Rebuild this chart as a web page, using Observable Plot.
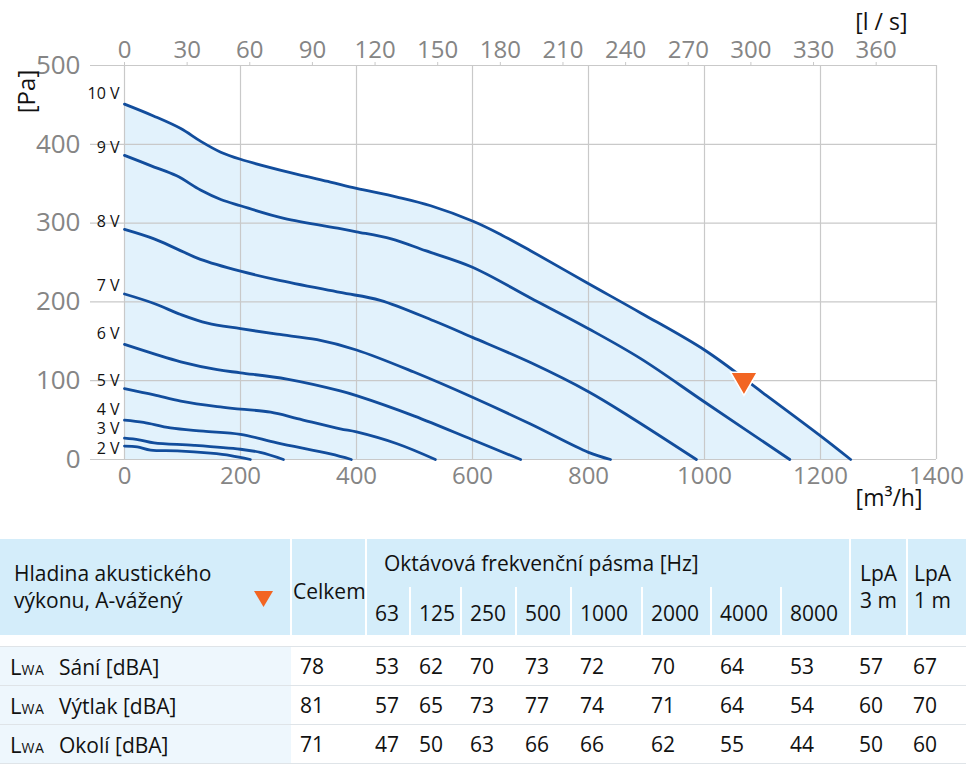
<!DOCTYPE html>
<html><head><meta charset="utf-8">
<script src="https://cdn.jsdelivr.net/npm/d3@7"></script>
<script src="https://cdn.jsdelivr.net/npm/@observablehq/plot@0.6"></script>
<style>
body{margin:0;background:#fff;font-family:"Open Sans",sans-serif;}
#chart svg{display:block;}
#tbl{margin-top:9px;}
table{border-collapse:collapse;table-layout:fixed;width:966px;font-family:"Open Sans",sans-serif;font-size:21px;color:#111;}
thead th{background:#d4edfa;font-weight:normal;text-align:left;padding:0 0 0 8px;border-left:2px solid #fff;vertical-align:middle;white-space:nowrap;}
thead th.first{border-left:none;padding-left:14px;line-height:27px;position:relative;}
thead tr.r1 th{height:48px;}
thead tr.r2 th{height:44px;}
tr.spacer td{height:11px;padding:0;border:none;}
tbody td{height:38px;padding:0 0 0 9px;border-bottom:1px solid #dfe4e8;white-space:nowrap;}
tbody tr.first td{border-top:1px solid #dfe4e8;}
tbody td.name{background:#eef7fd;padding-left:10px;}
.lwa{display:inline-block;width:49px;}
.lwa .big{font-size:22px;}
.lwa small{font-size:14px;letter-spacing:0.5px;}
.tri{position:absolute;left:254px;top:52px;}
</style></head><body>
<div id="chart"></div>
<div id="tbl"></div>
<script>
// ---- chart data ----
const flowTicks = [0,200,400,600,800,1000,1200,1400];           // m3/h
const pressureTicks = [0,100,200,300,400,500];                  // Pa
const lsTicks = [0,30,60,90,120,150,180,210,240,270,300,330,360]; // l/s
const voltLabels = ["10 V","9 V","8 V","7 V","6 V","5 V","4 V","3 V","2 V"];
const voltLabelPa = [464,396,301,220,159,100,63,39,14];
const v10 = [[0,451],[50,436],[97,420],[131,404],[166,390],[200,381],[286,364],[355,352],[400,344],[470,333],[528,322],[602,302],[650,285],[700,265],[798,224],[890,186],[1002,138],[1100,85],[1200,30],[1252,0]];
const v9 = [[0,386],[45,373],[90,360],[131,342],[166,330],[200,322],[275,306],[372,293],[400,289],[460,280],[519,265],[600,244],[700,205],[800,166],[890,128],[1002,72],[1147,0]];
const v8 = [[0,292],[51,280],[91,267],[131,254],[200,239],[263,228],[372,212],[441,202],[533,176],[600,155],[700,123],[800,86],[872,54],[986,0]];
const v7 = [[0,210],[51,198],[97,184],[143,173],[200,166],[263,159],[332,152],[400,139],[499,111],[600,79],[700,45],[800,9],[838,0]];
const v6 = [[0,146],[51,134],[97,124],[160,114],[200,110],[280,102],[372,87],[400,81],[500,55],[600,25],[683,0]];
const v5 = [[0,90],[51,82],[97,74],[160,67],[200,64],[252,60],[298,52],[372,39],[400,35],[470,20],[536,0]];
const v4 = [[0,50],[33,47],[79,40],[136,36],[200,32],[263,21],[355,7],[391,0]];
const v3 = [[0,27],[25,25],[51,21],[120,18],[200,13],[234,9],[274,0]];
const v2 = [[0,17],[22,16],[45,12],[91,11],[148,8],[183,5],[217,0]];
const operatingPoint = [1068, 101];

// ---- table data ----
const headTitle = ["Hladina akustického", "výkonu, A-vážený"];
const bands = ["63","125","250","500","1000","2000","4000","8000"];
const rowNames = ["Sání [dBA]","Výtlak [dBA]","Okolí [dBA]"];
const totalDBA = [78,81,71];
const bandDBA = [[53,62,70,73,72,70,64,53],[57,65,73,77,74,71,64,54],[47,50,63,66,66,62,55,44]];
const lpa3 = [57,60,50];
const lpa1 = [67,70,60];

const curves = [v10,v9,v8,v7,v6,v5,v4,v3,v2].map((pts,i)=>({v:voltLabels[i], pts}));
const lineData = curves.flatMap(c => c.pts.map(([q,p]) => ({v:c.v, q, p})));
const areaData = v10.map(([q,p]) => ({q,p}));
const labelData = curves.map((c,i) => ({t:c.v, q:c.pts[0][0], p:voltLabelPa[i]}));
const grid = "#c9c9c9", axisText = "#858585", ink = "#111";
const curveType = "catmull-rom";

const chart = Plot.plot({
  width: 966, height: 530,
  marginLeft: 124, marginRight: 30, marginTop: 65, marginBottom: 71,
  style: {fontFamily: "Open Sans", fontSize: "24px", background: "white", overflow: "visible"},
  x: {domain: [0,1400], label: null},
  y: {domain: [0,500], label: null},
  marks: [
    Plot.areaY(areaData, {x:"q", y:"p", fill:"#e2f2fc", curve: curveType}),
    Plot.gridX(flowTicks, {stroke: grid, strokeOpacity: 1, strokeWidth: 1.2}),
    Plot.gridY(pressureTicks, {stroke: grid, strokeOpacity: 1, strokeWidth: 1.2}),
    Plot.axisY(pressureTicks, {label: null, tickSize: 34, tickPadding: 10, stroke: grid, fill: axisText, fontSize: 26, strokeWidth: 1.2, tickFormat: d => String(d)}),
    Plot.axisX(flowTicks, {label: null, anchor: "bottom", tickSize: 0, tickPadding: 7, fill: axisText, fontSize: 24, tickFormat: d => String(d)}),
    Plot.axisX(lsTicks.map(d => d*3.6), {label: null, anchor: "top", tickSize: 4, tickPadding: 4, stroke: grid, fill: axisText, fontSize: 24, tickFormat: d => String(Math.round(d/3.6))}),
    Plot.line(lineData, {x:"q", y:"p", z:"v", stroke:"#124d9c", strokeWidth: 2.8, curve: curveType}),
    Plot.text(labelData, {x:"q", y:"p", text:"t", textAnchor:"end", dx:-5, fontSize: 16, fill: ink}),
    Plot.dot([operatingPoint], {x: d => d[0], y: d => d[1], symbol:"triangle", rotate: 180, r: 10, fill:"#f26522", stroke:"white", strokeWidth: 1.5}),
    Plot.text(["[l / s]"], {text: d => d, frameAnchor:"top-right", dx:-29, dy:-52, textAnchor:"end", fontSize: 23, fill: ink}),
    Plot.text(["[m³/h]"], {text: d => d, frameAnchor:"bottom-right", dx:-14, dy:46, textAnchor:"end", fontSize: 23, fill: ink}),
    Plot.text(["[Pa]"], {text: d => d, frameAnchor:"top-left", dx:-107, dy:26, rotate:-90, textAnchor:"middle", fontSize: 24, fill: ink})
  ]
});
document.getElementById("chart").append(chart);

// ---- table ----
const colW = [291,75,44,51,55,55,71,69,70,69,57,59];
const table = d3.select("#tbl").append("table");
table.append("colgroup").selectAll("col").data(colW).join("col").style("width", d => d + "px");
const thead = table.append("thead");
const r1 = thead.append("tr").attr("class","r1");
const first = r1.append("th").attr("class","first").attr("rowspan",2);
first.html(headTitle.join("<br>"));
first.append("svg").attr("class","tri").attr("width",19).attr("height",16)
  .append("polygon").attr("points","0,0 19,0 9.5,16").attr("fill","#f26522");
r1.append("th").attr("rowspan",2).style("padding-left","1px").style("padding-top","8px").text("Celkem");
r1.append("th").attr("colspan",8).style("padding-left","17px").text("Oktávová frekvenční pásma [Hz]");
r1.append("th").attr("rowspan",2).style("padding-left","9px").style("line-height","27px").html("LpA<br>3 m");
r1.append("th").attr("rowspan",2).style("padding-left","6px").style("line-height","27px").html("LpA<br>1 m");
const r2 = thead.append("tr").attr("class","r2");
r2.selectAll("th").data(bands).join("th").style("padding-top","4px").text(d => d);
const tbody = table.append("tbody");
tbody.append("tr").attr("class","spacer").append("td").attr("colspan",12);
rowNames.forEach((name,i) => {
  const tr = tbody.append("tr").attr("class", i===0 ? "first" : null);
  tr.append("td").attr("class","name").html(`<span class="lwa"><span class="big">L</span><small>WA</small></span>${name}`);
  const vals = [totalDBA[i], ...bandDBA[i], lpa3[i], lpa1[i]];
  tr.selectAll("td.v").data(vals).join("td").attr("class","v")
    .style("padding-left",(d,j) => j===vals.length-1 ? "6px" : "9px").text(d => d);
});
</script>
</body></html>
